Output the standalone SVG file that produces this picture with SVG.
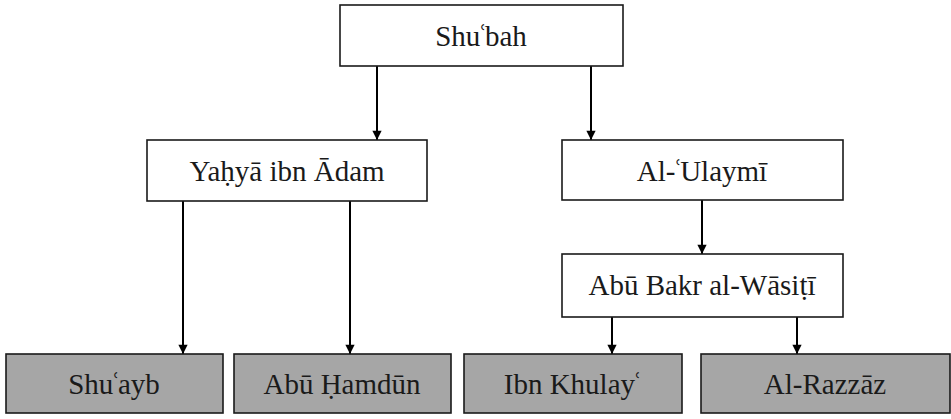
<svg xmlns="http://www.w3.org/2000/svg" width="951" height="419" viewBox="0 0 951 419">
<style>
.box{fill:#ffffff;stroke:#1a1a1a;stroke-width:1.6}
.leaf{fill:#a6a6a6;stroke:#1a1a1a;stroke-width:1.6}
.t{font-family:"Liberation Serif","DejaVu Serif",serif;font-size:29px;fill:#1a1a1a;text-anchor:middle}
.c{stroke:#000;stroke-width:2;fill:none;marker-end:url(#ah)}
</style>
<defs>
<marker id="ah" viewBox="0 0 10 10" refX="10" refY="5" markerWidth="5" markerHeight="4.6" markerUnits="strokeWidth" orient="auto">
<path d="M0,0 L10,5 L0,10 z" fill="#000"/>
</marker>
</defs>
<g id="connectors">
<line class="c" x1="377" y1="66" x2="377" y2="140"/>
<line class="c" x1="591" y1="66" x2="591" y2="140"/>
<line class="c" x1="183" y1="201" x2="183" y2="354"/>
<line class="c" x1="350" y1="201" x2="350" y2="354"/>
<line class="c" x1="702" y1="200" x2="702" y2="254"/>
<line class="c" x1="612" y1="317" x2="612" y2="354"/>
<line class="c" x1="797" y1="317" x2="797" y2="354"/>
</g>
<g id="shubah"><rect class="box" x="340" y="5" width="283" height="61"/><text class="t" x="481" y="46">Shu<tspan dx="-2.5">ʿ</tspan><tspan dx="-2.5">bah</tspan></text></g>
<g id="yahya"><rect class="box" x="147" y="140" width="280" height="61"/><text class="t" x="287" y="181">Yaḥyā ibn Ādam</text></g>
<g id="ulaymi"><rect class="box" x="562" y="140" width="281" height="60"/><text class="t" x="702" y="181">Al-<tspan dx="-2.5">ʿ</tspan><tspan dx="-2.5">Ulaymī</tspan></text></g>
<g id="abubakr"><rect class="box" x="562" y="254" width="281" height="63"/><text class="t" x="702" y="295">Abū Bakr al-Wāsiṭī</text></g>
<g id="shuayb"><rect class="leaf" x="6" y="354" width="217" height="59"/><text class="t" x="114" y="394">Shu<tspan dx="-2.5">ʿ</tspan><tspan dx="-2.5">ayb</tspan></text></g>
<g id="abuhamdun"><rect class="leaf" x="234" y="354" width="217" height="59"/><text class="t" x="342" y="394">Abū Ḥamdūn</text></g>
<g id="ibnkhulay"><rect class="leaf" x="464" y="354" width="218" height="59"/><text class="t" x="573" y="394">Ibn Khulay<tspan dx="-2.5">ʿ</tspan></text></g>
<g id="alrazzaz"><rect class="leaf" x="701" y="354" width="249" height="59"/><text class="t" x="825" y="394">Al-Razzāz</text></g>
</svg>
